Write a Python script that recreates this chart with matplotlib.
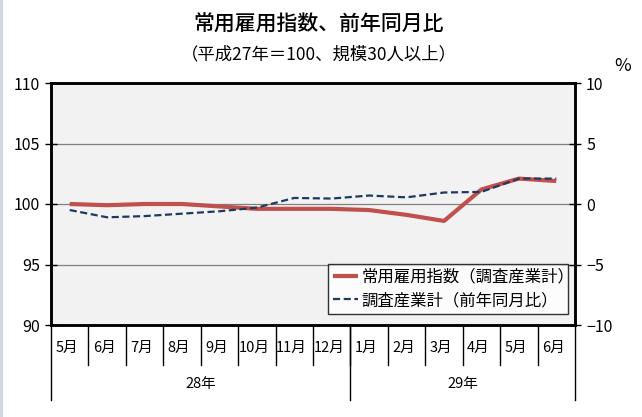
import matplotlib
matplotlib.use("Agg")
import matplotlib.pyplot as plt
import matplotlib.transforms as mtransforms
from matplotlib.patches import Rectangle

plt.rcParams['font.family'] = ['Noto Sans CJK JP', 'DejaVu Sans']

# --- データ ---
months = ['5月', '6月', '7月', '8月', '9月', '10月', '11月', '12月',
          '1月', '2月', '3月', '4月', '5月', '6月']
years = ['28年', '29年']
year_counts = [8, 6]
index_values = [100.0, 99.9, 100.0, 100.0, 99.8, 99.6, 99.6, 99.6,
                99.5, 99.1, 98.6, 101.2, 102.1, 101.9]
yoy_values = [-0.5, -1.1, -1.0, -0.8, -0.6, -0.3, 0.5, 0.45,
              0.7, 0.55, 0.95, 1.0, 2.1, 2.1]
left_ticks = [90, 95, 100, 105, 110]
right_ticks = [-10, -5, 0, 5, 10]

RED = '#c0504d'
NAVY = '#1f3a5f'

fig = plt.figure(figsize=(6.42, 4.17), dpi=100)
fig.patches.append(Rectangle((0, 0), 2 / 642, 1, transform=fig.transFigure,
                             color='#d3d7df', zorder=0))

ax = fig.add_axes([51 / 642, 92 / 417, 524 / 642, 242 / 417])
ax2 = ax.twinx()

x = list(range(len(months)))
ax.set_facecolor('#f2f2f2')
ax.plot(x, index_values, color=RED, lw=3.0, solid_capstyle='butt',
        label='常用雇用指数（調査産業計）', zorder=3)
ax2.plot(x, yoy_values, color=NAVY, lw=1.6, ls=(0, (3.2, 1.6)),
         label='調査産業計（前年同月比）', zorder=3)

ax.set_xlim(-0.5, len(months) - 0.5)
ax.set_ylim(left_ticks[0], left_ticks[-1])
ax2.set_ylim(right_ticks[0], right_ticks[-1])
ax.set_yticks(left_ticks)
ax2.set_yticks(right_ticks)
ax2.set_yticklabels([str(v).replace('-', '−') for v in right_ticks])
for v in left_ticks[1:-1]:
    ax.axhline(v, color='#808080', lw=0.9, zorder=1)

ax.set_xticks([])
for a in (ax, ax2):
    for s in a.spines.values():
        s.set_linewidth(1.8)
        s.set_color('black')
ax.tick_params(axis='y', direction='inout', length=8, width=1,
               labelsize=11.5, pad=4)
ax2.tick_params(axis='y', direction='inout', length=8, width=1,
                labelsize=11.5, pad=4)

# カテゴリ軸（月・年）
trans = mtransforms.blended_transform_factory(ax.transData, ax.transAxes)
for i in range(1, len(months)):
    ax.plot([i - 0.5, i - 0.5], [0, -0.165], color='black', lw=1,
            transform=trans, clip_on=False)
for i, m in enumerate(months):
    ax.text(i - 0.08, -0.095, m, transform=trans, ha='center', va='center',
            fontsize=10.5)
start = -0.5
edges = [start]
for cnt in year_counts:
    start += cnt
    edges.append(start)
for e in edges:
    ax.plot([e, e], [0, -0.31], color='black', lw=1, transform=trans,
            clip_on=False)
for k, yname in enumerate(years):
    ax.text((edges[k] + edges[k + 1]) / 2, -0.245, yname, transform=trans,
            ha='center', va='center', fontsize=10.5)

# タイトル
fig.text(0.497, 0.94, '常用雇用指数、前年同月比', ha='center', va='center',
         fontsize=15, fontweight='medium')
fig.text(0.497, 0.87, '（平成27年＝100、規模30人以上）', ha='center',
         va='center', fontsize=12.5)
fig.text(623 / 642, 1 - 66 / 417, '%', ha='center', va='center',
         fontsize=13)

h1, l1 = ax.get_legend_handles_labels()
h2, l2 = ax2.get_legend_handles_labels()
leg = ax2.legend(h1 + h2, l1 + l2, loc='lower left',
                 bbox_to_anchor=(0.529, 0.045, 0.458, 0.261),
                 mode='expand', fontsize=11.8, handlelength=1.5,
                 handletextpad=0.25, borderaxespad=0, labelspacing=0.4,
                 frameon=True, fancybox=False, borderpad=0.3)
leg.get_frame().set_edgecolor('black')
leg.get_frame().set_linewidth(1.0)
leg.get_frame().set_facecolor('white')

fig.savefig('out.png', dpi=100)
